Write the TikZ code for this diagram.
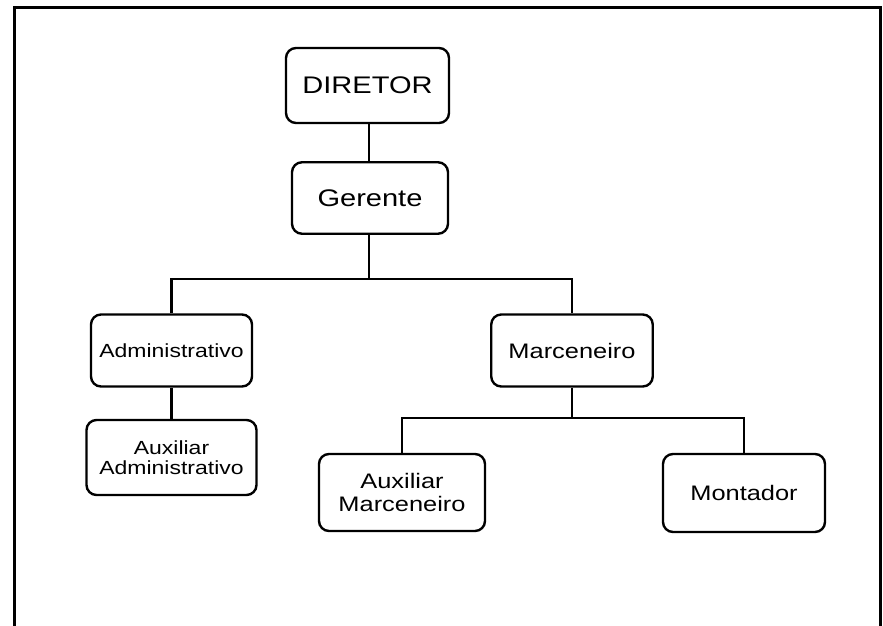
\documentclass[tikz,border=0pt]{standalone}
\usepackage{fontspec}
\setmainfont{Liberation Sans}[FakeStretch=1.21]
\begin{document}
\begin{tikzpicture}[x=1pt,y=-1pt,
  box/.style={draw,line width=2.4pt,rounded corners=10pt,inner sep=0pt,align=center,fill=white},
  link/.style={line width=2.2pt},
  big/.style={font=\fontsize{24}{28}\selectfont},
  mid/.style={font=\fontsize{21}{23}\selectfont},
  small/.style={font=\fontsize{19}{20}\selectfont}]
\useasboundingbox (0,0) rectangle (883,626);
\draw[line width=3pt] (14.5,630) -- (14.5,7.5) -- (880.5,7.5) -- (880.5,630);
\node[box,big,minimum width=163pt,minimum height=75pt] (dir) at (367.5,85.5) {DIRETOR};
\node[box,big,minimum width=156pt,minimum height=71.5pt] (ger) at (370,198) {Gerente};
\node[box,small,minimum width=161pt,minimum height=72pt] (adm) at (171.5,350.5) {Administrativo};
\node[box,mid,minimum width=161.5pt,minimum height=72pt] (mar) at (572,350.5) {Marceneiro};
\node[box,small,minimum width=170pt,minimum height=75pt] (aad) at (171.5,457.5) {Auxiliar\\Administrativo};
\node[box,mid,minimum width=166pt,minimum height=77pt] (ama) at (402,492.5) {Auxiliar\\Marceneiro};
\node[box,mid,minimum width=162pt,minimum height=78pt] (mon) at (744,493) {Montador};
\draw[link] (ger.north) ++(-1,0) coordinate (g1) -- (g1 |- dir.south);
\draw[link] (ger.south) ++(-1,0) -- ++(0,44) coordinate (j1);
\draw[link] (adm.north) |- (j1) -| (mar.north);
\draw[link] (adm.south) -- (aad.north);
\draw[link] (mar.south) -- ++(0,30.5) coordinate (j2);
\draw[link] (ama.north) |- (j2) -| (mon.north);
\end{tikzpicture}
\end{document}
